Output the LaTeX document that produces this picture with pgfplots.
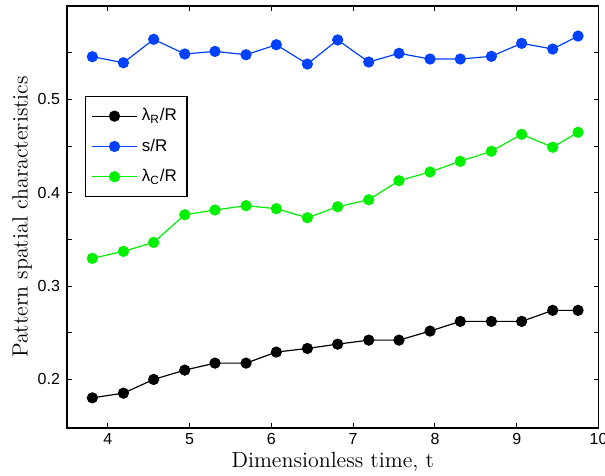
\documentclass[border=0pt]{standalone}
\usepackage{fontspec}
\usepackage{pgfplots}
\pgfplotsset{compat=1.18}
\newfontfamily\hel{Liberation Sans}
\definecolor{mblue}{RGB}{0,64,255}
\definecolor{mgreen}{RGB}{0,240,0}
\begin{document}
\begin{tikzpicture}
\begin{axis}[
  name=ax,
  scale only axis,
  width=265.75pt, height=211pt,
  xmin=3.5, xmax=10, ymin=0.148, ymax=0.6,
  xtick={4,5,6,7,8,9,10},
  ytick={0.2,0.3,0.4,0.5},
  minor ytick={0.25,0.35,0.45,0.55},
  tick align=inside,
  major tick length=2.5pt, minor tick length=2.5pt,
  axis line style={line width=0.6pt},
  every tick/.style={black, line width=0.5pt},
  /pgf/number format/assume math mode=true,
  ticklabel style={font=\hel\fontsize{8}{9}\selectfont},
  xticklabel style={yshift=1pt},
  yticklabel style={/pgf/number format/fixed, /pgf/number format/precision=1},
  xlabel={Dimensionless time, t},
  ylabel={Pattern spatial characteristics},
  label style={font=\fontsize{11}{13}\selectfont},
  xlabel style={yshift=3pt},
  ylabel style={yshift=-4pt},
  legend style={at={(axis description cs:0.033,0.787)}, anchor=north west,
    font=\hel\fontsize{8.5}{10}\selectfont, draw=black, line width=0.6pt,
    row sep=3.5pt, inner xsep=3pt, inner ysep=4pt},
  legend cell align=left,
  legend image code/.code={\draw[mark repeat=2,mark phase=2] plot coordinates {(0cm,0cm)(0.4cm,0cm)(0.8cm,0cm)};},
  every axis plot/.append style={line width=0.6pt, mark=*, mark size=2.5pt},
]
\addplot[black, mark options={fill=black}] coordinates {
(3.81,0.1803)(4.19,0.1853)(4.56,0.2000)(4.94,0.2100)(5.31,0.2175)(5.69,0.2175)
(6.06,0.2293)(6.44,0.2332)(6.81,0.2378)(7.19,0.2421)(7.56,0.2421)(7.94,0.2518)
(8.31,0.2622)(8.69,0.2622)(9.06,0.2622)(9.44,0.2740)(9.75,0.2740)};
\addlegendentry{λ\textsubscript{R}/R}
\addplot[mblue, mark options={fill=mblue}] coordinates {
(3.81,0.5457)(4.19,0.5392)(4.56,0.5643)(4.94,0.5486)(5.31,0.5514)(5.69,0.5478)
(6.06,0.5585)(6.44,0.5378)(6.81,0.5636)(7.19,0.5400)(7.56,0.5493)(7.94,0.5432)
(8.31,0.5432)(8.69,0.5461)(9.06,0.5600)(9.44,0.5539)(9.75,0.5678)};
\addlegendentry{s/R}
\addplot[mgreen, mark options={fill=mgreen}] coordinates {
(3.81,0.3297)(4.19,0.3372)(4.56,0.3468)(4.94,0.3764)(5.31,0.3815)(5.69,0.3861)
(6.06,0.3829)(6.44,0.3732)(6.81,0.3850)(7.19,0.3925)(7.56,0.4129)(7.94,0.4222)
(8.31,0.4337)(8.69,0.4444)(9.06,0.4626)(9.44,0.4487)(9.75,0.4647)};
\addlegendentry{λ\textsubscript{C}/R}
\end{axis}
\pgfresetboundingbox
\path ([xshift=-33.5pt,yshift=-24pt]ax.south west) rectangle ([xshift=3.25pt,yshift=3pt]ax.north east);
\end{tikzpicture}
\end{document}
